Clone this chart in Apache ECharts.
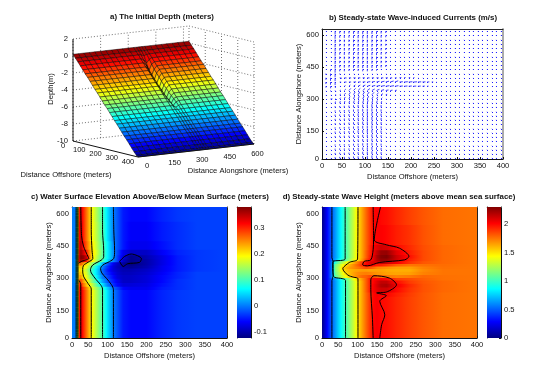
<!DOCTYPE html>
<html>
<head>
<meta charset="utf-8">
<script src="https://cdn.jsdelivr.net/npm/echarts@6/dist/echarts.min.js"></script>
<style>html,body{margin:0;background:#fff}#main{width:557px;height:381px}</style>
</head>
<body>
<div id="main"></div>
<script>
// ---- a) initial depth
var depthX = [0,15,30,45,60,75,90,105,120,135,150,165,180,195,210,225,240,255,270,285,300,315,330,345,360,375,390,400];
var depthY = [0,30,60,90,120,150,180,210,240,270,300,330,345,360,375,390,420,450,480,510,540,570,600,630];
var depthBase = [0.2,-0.2,-0.55,-0.95,-1.35,-1.75,-2.1,-2.5,-2.9,-3.3,-3.65,-4.05,-4.45,-4.85,-5.2,-5.6,-6,-6.4,-6.75,-7.15,-7.55,-7.95,-8.3,-8.7,-9.1,-9.5,-9.85,-10];
var depthEdge = [0.2,-0.2,-0.6,-1.1,-1.6,-2.1,-2.5,-2.9,-3.3,-3.7,-4,-4.4,-4.7,-5,-5.3,-5.65,-6,-6.4,-6.75,-7.15,-7.55,-7.95,-8.3,-8.7,-9.1,-9.5,-9.85,-10];
var depthChannel = [0.2,-0.2,-0.7,-1.5,-2.3,-2.9,-3.4,-3.8,-4.2,-4.5,-4.8,-5.1,-5.4,-5.6,-5.7,-5.85,-6.05,-6.4,-6.75,-7.15,-7.55,-7.95,-8.3,-8.7,-9.1,-9.5,-9.85,-10];
var depthRowAt = {345: depthEdge, 360: depthChannel, 375: depthEdge};
var zTicks = [2,0,-2,-4,-6,-8,-10];
var offshoreTicks3d = [0,100,200,300,400];
var alongTicks3d = [0,150,300,450,600];

// ---- b) currents, sampled every 10 m offshore and 20 m alongshore
var quiverX = [15,25,35,45,55,65,75,85,95,105,115,125,135,145,155,165,175,185,195,205,215,225,235,245,255,265,275,285,295,305,315,325,335,345,355,365,375,385,395];
var quiverY = [20,40,60,80,100,120,140,160,180,200,220,240,260,280,300,320,340,360,380,400,420,440,460,480,500,520,540,560,580,600,620];
var tailNorth = [-.06,-.06,-.07,-.07,-.07,-.08,-.08,-.08,-.08,-.08,-.09,-.09,-.09,-.09,-.09,-.09,-.09,-.09,-.09,-.09,-.09,-.09,-.09];
var tailSouth = [.06,.06,.07,.07,.07,.08,.08,.08,.08,.08,.09,.09,.09,.09,.09,.09,.09,.09,.09,.09,.09,.09,.09];
var tailMid = [.04,.04,.04,.03,.03,.03,.02,.02,.02,.02,.02,.03,.03,.03,.03,.03,.03,.03,.03,.03,.03,.03,.03];
var tailCalm = [0,0,0,0,0,0,0,0,0,0,0,0,0,0,0,0,0,0,0,0,0,0,0];
var uZero = [0,0,0,0,0,0,0,0,0,0,0,0,0,0,0,0];
var vS1 = [.02,.08,.18,.22,.22,.22,.28,.3,.35,.38,.42,.38,.3,.1,.05,.05];
var vS2 = [.02,.08,.2,.22,.25,.28,.32,.38,.42,.45,.48,.42,.35,.12,.05,.05];
var v280 = [.02,.1,.25,.3,.32,.35,.4,.42,.45,.45,.45,.4,.3,.1,.05,.05];
var u280 = [0,.05,.05,.08,.08,.1,.1,.1,.1,.1,.1,.1,.08,.04,0,0];
var v300 = [0,.02,-.1,.2,.3,.38,.42,.42,.42,.42,.38,.32,.18,.06,.02,.02];
var u300 = [0,.25,.25,.12,.12,.15,.15,.15,.18,.18,.18,.18,.15,.1,.04,.02];
var v320 = [-.1,-.05,-.05,.1,.25,.35,.4,.42,.42,.4,.35,.28,.15,.08,.05,.03];
var u320 = [0,.1,.15,.15,.18,.2,.22,.22,.25,.25,.28,.28,.25,.2,.12,.08];
var v340 = [-.1,-.15,-.15,.05,.2,.3,.32,.32,.3,.28,.22,.18,.12,.08,.05,.04];
var u340 = [0,.05,.1,.15,.2,.25,.28,.3,.32,.35,.38,.4,.4,.38,.3,.25];
var v360 = [-.2,-.3,-.25,.02,.1,.18,.2,.18,.18,.15,.12,.12,.1,.08,.08,.08];
var u360 = [0,.02,.05,.1,.15,.2,.25,.3,.35,.4,.45,.5,.5,.5,.5,.48];
var u360Tail = [.45,.45,.42,.4,.38,.3,.2,.1,.05,.03,.02,0,0,0,0,0,0,0,0,0,0,0,0];
var v380 = [-.3,-.4,-.45,-.02,0,0,.02,.02,.03,.05,.08,.1,.12,.12,.15,.18];
var u380 = [0,0,0,.2,.3,.3,.35,.35,.35,.4,.4,.4,.45,.45,.45,.45];
var u380Tail = [.45,.5,.5,.5,.45,.4,.3,.2,.1,.05,.02,0,0,0,0,0,0,0,0,0,0,0,0];
var v400 = [-.3,-.45,-.5,-.08,-.03,-.03,-.02,-.02,-.02,-.02,-.02,-.02,-.02,-.02,-.02,-.02];
var u400 = [0,0,0,.3,.3,.3,.3,.3,.3,.3,.3,.3,.3,.3,.25,.25];
var u400Tail = [.25,.2,.2,.15,.1,.05,.02,0,0,0,0,0,0,0,0,0,0,0,0,0,0,0,0];
var v420 = [-.2,-.4,-.5,-.2,-.08,-.05,-.05,-.05,-.05,-.05,-.05,-.05,-.05,-.05,-.05,-.05];
var u420 = [0,0,0,.08,.1,.1,.1,.1,.1,.1,.1,.1,.1,.1,.08,.08];
var vN0 = [-.1,-.3,-.5,-.3,-.3,-.25,-.25,-.25,-.3,-.3,-.25,-.2,-.1,-.05,-.05,-.05];
var vN1 = [-.05,-.1,-.5,-.35,-.38,-.35,-.4,-.42,-.45,-.45,-.42,-.42,-.35,-.28,-.06,-.06];
// one entry per quiverY row: [v head, v tail, u head, u tail]
var quiverRows = [
  [vS1,tailSouth,uZero,tailCalm],[vS1,tailSouth,uZero,tailCalm],[vS1,tailSouth,uZero,tailCalm],[vS1,tailSouth,uZero,tailCalm],
  [vS1,tailSouth,uZero,tailCalm],[vS1,tailSouth,uZero,tailCalm],[vS2,tailSouth,uZero,tailCalm],[vS2,tailSouth,uZero,tailCalm],
  [vS2,tailSouth,uZero,tailCalm],[vS2,tailSouth,uZero,tailCalm],[vS2,tailSouth,uZero,tailCalm],[vS2,tailSouth,uZero,tailCalm],
  [vS2,tailSouth,uZero,tailCalm],[v280,tailSouth,u280,tailCalm],[v300,tailMid,u300,tailCalm],[v320,tailMid,u320,tailCalm],
  [v340,tailMid,u340,tailCalm],[v360,tailMid,u360,u360Tail],[v380,tailMid,u380,u380Tail],[v400,tailMid,u400,u400Tail],
  [v420,tailNorth,u420,tailCalm],[vN0,tailNorth,uZero,tailCalm],[vN1,tailNorth,uZero,tailCalm],[vN1,tailNorth,uZero,tailCalm],
  [vN1,tailNorth,uZero,tailCalm],[vN1,tailNorth,uZero,tailCalm],[vN1,tailNorth,uZero,tailCalm],[vN1,tailNorth,uZero,tailCalm],
  [vN1,tailNorth,uZero,tailCalm],[vN1,tailNorth,uZero,tailCalm],[vN1,tailNorth,uZero,tailCalm]
];

// ---- c) water surface elevation, one profile per alongshore row
var elevX = [8,14,18,21,24,27,31,38,46,58,72,87,100,115,125,140,160,200,240,280,330,407];
var elevBase = [0,0,0,.1,.2,.3,.34,.3,.26,.2,.15,.1,.05,0,-.02,-.05,-.06,-.06,-.045,-.035,-.03,-.03];
var elev255 = [0,0,0,.1,.2,.3,.33,.29,.25,.19,.14,.09,.04,-.01,-.03,-.06,-.07,-.07,-.05,-.04,-.03,-.03];
var elev270 = [0,0,0,.1,.2,.29,.31,.26,.22,.17,.11,.05,0,-.04,-.06,-.08,-.08,-.075,-.055,-.04,-.03,-.03];
var elev290 = [0,0,.02,.1,.19,.26,.28,.24,.2,.14,.08,.02,-.02,-.05,-.07,-.09,-.09,-.08,-.06,-.04,-.03,-.03];
var elev310 = [0,0,.02,.1,.18,.23,.24,.2,.18,.12,.06,0,-.03,-.06,-.08,-.09,-.09,-.08,-.06,-.045,-.03,-.03];
var elev325 = [0,0,.02,.1,.18,.22,.22,.19,.17,.1,.05,-.01,-.04,-.07,-.085,-.095,-.095,-.085,-.065,-.045,-.03,-.03];
var elev340 = [0,0,.02,.1,.18,.2,.21,.18,.16,.1,.05,-.01,-.05,-.08,-.09,-.1,-.1,-.09,-.07,-.05,-.035,-.03];
var elev355 = [0,0,.02,.1,.18,.22,.22,.2,.18,.12,.06,0,-.04,-.08,-.095,-.105,-.115,-.1,-.07,-.05,-.035,-.03];
var elev370 = [0,0,.02,.1,.2,.25,.27,.24,.2,.15,.1,.03,-.02,-.07,-.09,-.11,-.125,-.105,-.075,-.05,-.035,-.03];
var elev385 = [0,0,.02,.12,.24,.33,.37,.35,.3,.21,.15,.1,.05,0,-.03,-.09,-.12,-.105,-.075,-.05,-.035,-.03];
var elev400 = [0,0,0,.1,.22,.34,.38,.37,.34,.22,.16,.11,.06,.01,-.03,-.08,-.12,-.1,-.075,-.05,-.035,-.03];
var elev420 = [0,0,0,.1,.2,.33,.37,.34,.3,.22,.17,.115,.06,.01,-.025,-.07,-.09,-.09,-.065,-.045,-.035,-.03];
var elev450 = [0,0,0,.1,.2,.32,.36,.31,.27,.21,.16,.11,.06,.005,-.02,-.05,-.07,-.07,-.055,-.04,-.03,-.03];
var elev500 = [0,0,0,.1,.2,.31,.35,.3,.26,.2,.155,.105,.05,0,-.02,-.05,-.065,-.065,-.05,-.04,-.03,-.03];
var elevY = [22,240,255,270,290,310,325,340,355,370,385,400,420,450,500,632];
var elevRows = [elevBase,elevBase,elev255,elev270,elev290,elev310,elev325,elev340,elev355,elev370,elev385,elev400,elev420,elev450,elev500,elevBase];
var elevContours = [
  [[19,22],[19,632]],
  [[21.5,22],[21.5,632]],
  [[24,22],[24,632]],
  [[31,22],[31,270],[27,290]],
  [[31,632],[33,500],[38,450],[50,400],[52,393],[35,380],[25,370]],
  [[58,22],[58,250],[50,275],[38,310],[36,340],[38,360],[50,375],[62,392],[60,430],[58,520],[58,632]],
  [[87,22],[87,250],[82,270],[70,295],[58,325],[56,340],[62,362],[84,385],[90,400],[90,430],[87,520],[87,632]],
  [[115,22],[115,247],[110,270],[97,300],[85,325],[82,345],[88,362],[105,378],[116,393],[118,430],[116,520],[115,632]],
  [[131,379],[144,402],[161,413],[187,391],[182,374],[152,368],[140,355],[131,379]]
];
var elevRange = [-0.125,0.38];
var elevTicks = [-0.1,0,0.1,0.2,0.3];

// ---- d) wave height, one profile per alongshore row
var waveX = [8,15,25,34,42,52,60,68,78,90,101,112,122,132,140,150,160,175,200,234,269,320,407];
var waveBase = [0,.15,.35,.5,.62,.78,.9,1,1.15,1.32,1.5,1.65,1.78,1.9,2,2.03,2,1.98,1.93,1.87,1.82,1.77,1.75];
var wave222 = [0,.15,.35,.5,.62,.78,.9,1,1.15,1.32,1.5,1.65,1.78,1.9,2,2.03,2.02,2.01,1.95,1.88,1.82,1.77,1.75];
var wave250 = [0,.15,.35,.5,.62,.78,.9,1,1.15,1.32,1.5,1.65,1.8,1.95,2.02,2.08,2.12,2.12,2,1.9,1.83,1.78,1.75];
var wave270 = [0,.15,.35,.5,.62,.78,.9,1,1.15,1.32,1.5,1.65,1.8,1.95,2.02,2.1,2.18,2.2,2.04,1.92,1.83,1.78,1.75];
var wave285 = [0,.15,.35,.5,.62,.78,.9,1,1.15,1.32,1.5,1.65,1.8,1.95,2,2.08,2.15,2.15,1.99,1.88,1.82,1.78,1.75];
var wave298 = [0,.15,.35,.5,.64,.8,.92,1.05,1.2,1.4,1.55,1.68,1.8,1.95,2,2.02,2.03,2,1.88,1.84,1.8,1.76,1.75];
var wave310 = [0,.15,.35,.6,1.05,1.2,1.32,1.42,1.52,1.65,1.72,1.78,1.8,1.85,1.85,1.8,1.78,1.75,1.72,1.74,1.78,1.76,1.75];
var wave325 = [0,.15,.35,.6,1.1,1.25,1.38,1.5,1.58,1.65,1.7,1.72,1.73,1.72,1.7,1.68,1.67,1.65,1.64,1.65,1.72,1.75,1.75];
var wave340 = [0,.15,.35,.6,1.12,1.3,1.48,1.55,1.6,1.63,1.65,1.66,1.66,1.65,1.65,1.65,1.65,1.63,1.62,1.62,1.7,1.75,1.75];
var wave352 = [0,.15,.35,.6,1.12,1.3,1.5,1.58,1.65,1.7,1.75,1.8,1.85,1.82,1.78,1.72,1.7,1.68,1.65,1.65,1.72,1.76,1.75];
var wave362 = [0,.15,.35,.6,1.1,1.25,1.4,1.5,1.6,1.7,1.8,1.92,2.02,2.05,2,1.95,1.95,1.9,1.8,1.75,1.76,1.77,1.75];
var wave375 = [0,.15,.35,.58,.95,1.12,1.25,1.35,1.48,1.62,1.75,1.9,2,2.08,2.1,2.12,2.15,2.12,2.03,1.9,1.82,1.78,1.75];
var wave388 = [0,.15,.35,.5,.65,.85,.95,1.05,1.2,1.38,1.52,1.68,1.85,1.98,2.05,2.18,2.25,2.25,2.12,1.95,1.85,1.78,1.75];
var wave402 = [0,.15,.35,.5,.62,.78,.9,1,1.15,1.32,1.5,1.65,1.8,1.95,2.05,2.2,2.28,2.3,2.13,1.98,1.85,1.78,1.75];
var wave420 = [0,.15,.35,.5,.62,.78,.9,1,1.15,1.32,1.5,1.65,1.8,1.93,2.03,2.15,2.24,2.25,2.08,1.95,1.85,1.78,1.75];
var wave445 = [0,.15,.35,.5,.62,.78,.9,1,1.15,1.32,1.5,1.65,1.78,1.92,2.02,2.08,2.12,2.1,2,1.92,1.84,1.78,1.75];
var wave470 = [0,.15,.35,.5,.62,.78,.9,1,1.15,1.32,1.5,1.65,1.78,1.9,2,2.02,2.02,2,1.95,1.9,1.83,1.77,1.75];
var waveY = [22,210,222,250,270,285,298,310,325,340,352,362,375,388,402,420,445,470,632];
var waveRows = [waveBase,waveBase,wave222,wave250,wave270,wave285,wave298,wave310,wave325,wave340,wave352,wave362,wave375,wave388,wave402,wave420,wave445,wave470,waveBase];
var waveContours = [
  [[34,22],[34,290],[37,310],[37,380],[34,395],[34,632]],
  [[69,22],[69,290],[62,298],[40,305],[37,320],[36,345],[36,370],[38,380],[62,384],[68,390],[68,632]],
  [[101,22],[101,298],[90,305],[75,315],[62,345],[70,362],[80,375],[100,390],[101,632]],
  [[140,22],[138,120],[134,247],[134,293],[142,312],[182,301],[200,270],[174,236],[149,232],[174,219],[157,193],[170,130],[162,85],[157,22]],
  [[140,632],[141,479],[140,433],[134,386],[117,379],[113,363],[125,358],[157,374],[221,386],[232,402],[208,440],[174,456],[143,479],[159,632]]
];
var waveRange = [0,2.3];
var waveTicks = [0,0.5,1,1.5,2];

// tick positions and the text MATLAB printed there (first/last sit on the axis ends)
var offshoreTicks = [8.5,50,100,150,200,250,300,350,407];
var offshoreLabels = ['0','50','100','150','200','250','300','350','400'];
var alongTicks = [22,150,300,450,600];
var alongLabels = ['0','150','300','450','600'];
var quiverOffTicks = [6.5,50,100,150,200,250,300,350,400];
var quiverAlongTicks = [17,150,300,450,600];

var FONT = '"Liberation Sans", Arial, sans-serif';
var FS = 7.6;

function jet(t) {
  function c(v) { return Math.round(255 * Math.max(0, Math.min(1, v))); }
  return 'rgb(' + c(1.5 - Math.abs(4 * t - 3)) + ',' + c(1.5 - Math.abs(4 * t - 2)) + ',' + c(1.5 - Math.abs(4 * t - 1)) + ')';
}

function rowGradient(xs, vals, range) {
  var stops = [], span = xs[xs.length - 1] - xs[0];
  for (var i = 0; i < xs.length - 1; i++) {
    for (var k = 0; k < 4; k++) {
      var f = k / 4;
      var v = vals[i] + (vals[i + 1] - vals[i]) * f;
      stops.push({offset: (xs[i] + (xs[i + 1] - xs[i]) * f - xs[0]) / span, color: jet((v - range[0]) / (range[1] - range[0]))});
    }
  }
  stops.push({offset: 1, color: jet((vals[vals.length - 1] - range[0]) / (range[1] - range[0]))});
  return new echarts.graphic.LinearGradient(0, 0, 1, 0, stops);
}

// filled field: each row is a rect shaded along x with its own profile
function fieldSeries(xs, ys, rows, range, axisIdx) {
  var data = ys.map(function (y, j) {
    var lo = j === 0 ? y : (ys[j - 1] + y) / 2;
    var hi = j === ys.length - 1 ? y : (ys[j + 1] + y) / 2;
    return [lo, hi, j];
  });
  var fills = rows.map(function (r) { return rowGradient(xs, r, range); });
  return {
    type: 'custom', xAxisIndex: axisIdx, yAxisIndex: axisIdx, clip: true, silent: true, z: 1,
    data: data,
    renderItem: function (params, api) {
      var a = api.coord([xs[0], api.value(1)]);
      var b = api.coord([xs[xs.length - 1], api.value(0)]);
      return {type: 'rect', shape: {x: a[0], y: a[1] - 0.5, width: b[0] - a[0], height: b[1] - a[1] + 1}, style: {fill: fills[api.value(2)]}};
    }
  };
}

function contourSeries(lines, axisIdx) {
  return lines.map(function (pts) {
    return {
      type: 'line', xAxisIndex: axisIdx, yAxisIndex: axisIdx, data: pts, showSymbol: false, silent: true, smooth: 0.3,
      lineStyle: {color: '#000', width: 1}, clip: true, z: 2, animation: false
    };
  });
}

function colorbarSeries(range, axisIdx) {
  var stops = [0, .125, .375, .625, .875, 1].map(function (t) { return {offset: 1 - t, color: jet(t)}; }).reverse();
  return {
    type: 'custom', xAxisIndex: axisIdx, yAxisIndex: axisIdx, silent: true, z: 1, clip: true,
    data: [[0, range[0], 1, range[1]]],
    renderItem: function (params, api) {
      var a = api.coord([0, api.value(3)]), b = api.coord([1, api.value(1)]);
      return {type: 'rect', shape: {x: a[0], y: a[1], width: b[0] - a[0], height: b[1] - a[1]},
        style: {fill: new echarts.graphic.LinearGradient(0, 0, 0, 1, stops)}};
    }
  };
}

function labelFrom(ticks, labels) {
  return function (v) { var i = ticks.indexOf(v); return i < 0 ? '' : labels[i]; };
}

var grids = [], xAxes = [], yAxes = [];
// adds a grid with its visible axes plus mirrored ones that close the box
function addPanel(rect, x, y) {
  var g = grids.length;
  grids.push({left: rect[0], top: rect[1], width: rect[2], height: rect[3]});
  function axis(cfg, labelled) {
    var show = cfg.show !== false;
    return {
      type: 'value', gridIndex: g, min: cfg.min, max: cfg.max, position: cfg.position, show: show, scale: true,
      name: labelled ? cfg.name : '', nameLocation: 'middle', nameGap: cfg.nameGap,
      nameTextStyle: {fontFamily: FONT, fontSize: FS, color: '#111'},
      axisLine: {show: true, onZero: false, lineStyle: {color: labelled ? '#111' : '#999', width: 1}},
      axisTick: {show: true, inside: true, length: 2, customValues: cfg.ticks, lineStyle: {color: '#111'}},
      axisLabel: {show: labelled, customValues: cfg.ticks, margin: 3, fontFamily: FONT, fontSize: FS, color: '#111',
        formatter: labelFrom(cfg.ticks, cfg.labels)},
      splitLine: {show: false}
    };
  }
  xAxes.push(axis(x, true));
  yAxes.push(axis(y, true));
  return g;
}

var offAxis = function (name) { return {min: 8.5, max: 407, ticks: offshoreTicks, labels: offshoreLabels, position: 'bottom', name: name, nameGap: 14}; };
var alongAxis = function (name) { return {min: 22, max: 632, ticks: alongTicks, labels: alongLabels, position: 'left', name: name, nameGap: 13}; };
var hidden = {min: 0, max: 1, ticks: [], labels: [], position: 'bottom', show: false};

// ---- panel a draws on a plain pixel-sized cartesian, the depth values go through this projection
grids.push({left: 0, top: 0, width: 557, height: 190});
xAxes.push({type: 'value', gridIndex: 0, min: 0, max: 557, show: false});
yAxes.push({type: 'value', gridIndex: 0, min: 0, max: 190, inverse: true, show: false});
function project(x, y, z) {
  return [73 + 65 * x / 400 + 116 * y / 630, 141 + 16 * x / 400 - 13 * y / 630 - 8.5 * (z + 10)];
}
function depthAt(i, j) { return (depthRowAt[depthY[j]] || depthBase)[i]; }

var surfaceData = [];
depthX.slice(0, -1).forEach(function (x, i) {
  depthY.slice(0, -1).forEach(function (y, j) { surfaceData.push([i, j]); });
});
var surfaceSeries = {
  type: 'custom', xAxisIndex: 0, yAxisIndex: 0, silent: true, z: 2, data: surfaceData,
  renderItem: function (params, api) {
    var i = api.value(0), j = api.value(1);
    var corners = [[i, j], [i + 1, j], [i + 1, j + 1], [i, j + 1]];
    var mean = 0;
    var pts = corners.map(function (c) {
      var z = depthAt(c[0], c[1]);
      mean += z / 4;
      return api.coord(project(depthX[c[0]], depthY[c[1]], z));
    });
    return {type: 'polygon', shape: {points: pts}, style: {fill: jet((mean + 10.2) / 10.5), stroke: 'rgba(0,0,0,0.85)', lineWidth: 0.55}};
  }
};

// dotted box walls and solid axes of panel a
var wallLines = [];
zTicks.forEach(function (z) {
  wallLines.push([[0, 0, z], [0, 630, z]]);
  wallLines.push([[0, 630, z], [400, 630, z]]);
});
alongTicks3d.forEach(function (y) { wallLines.push([[0, y, -10], [0, y, 2]]); });
offshoreTicks3d.forEach(function (x) { wallLines.push([[x, 630, -10], [x, 630, 2]]); });
var axisLines3d = [
  [[0, 0, -10], [0, 0, 2]],
  [[0, 0, -10], [400, 0, -10]],
  [[400, 0, -10], [400, 630, -10]]
];
function lines3dSeries(lines, style, z) {
  return {
    type: 'custom', xAxisIndex: 0, yAxisIndex: 0, silent: true, z: z, data: lines.map(function (l, i) { return [i]; }),
    renderItem: function (params, api) {
      var l = lines[api.value(0)];
      var a = api.coord(project(l[0][0], l[0][1], l[0][2])), b = api.coord(project(l[1][0], l[1][1], l[1][2]));
      return {type: 'line', shape: {x1: a[0], y1: a[1], x2: b[0], y2: b[1]}, style: style};
    }
  };
}
function labels3dSeries(items, align) {
  return {
    type: 'custom', xAxisIndex: 0, yAxisIndex: 0, silent: true, z: 5, data: items.map(function (t, i) { return [i]; }),
    renderItem: function (params, api) {
      var t = items[api.value(0)], p = api.coord(project(t.at[0], t.at[1], t.at[2]));
      return {type: 'text', style: {x: p[0] + t.dx, y: p[1] + t.dy, text: String(t.text), fill: '#111',
        font: FS + 'px ' + FONT, align: align, verticalAlign: 'middle'}};
    }
  };
}
var zLabelItems = zTicks.map(function (z) { return {at: [0, 0, z], dx: -5, dy: 0, text: z}; });
var offLabelItems = offshoreTicks3d.map(function (x) { return {at: [x, 0, -10], dx: -10, dy: 5, text: x}; });
var alongLabelItems = alongTicks3d.map(function (y) { return {at: [400, y, -10], dx: 9, dy: 9, text: y}; });

// ---- other panels
var quiverGrid = addPanel([322, 29, 181, 130],
  {min: 6.5, max: 400, ticks: quiverOffTicks, labels: offshoreLabels, position: 'bottom', name: 'Distance Offshore (meters)', nameGap: 14},
  {min: 17, max: 630, ticks: quiverAlongTicks, labels: alongLabels, position: 'left', name: 'Distance Alongshore (meters)', nameGap: 13});
var elevGrid = addPanel([72, 207, 155, 131], offAxis('Distance Offshore (meters)'), alongAxis('Distance Alongshore (meters)'));
var elevBar = addPanel([237, 207, 14, 131], hidden,
  {min: elevRange[0], max: elevRange[1], ticks: elevTicks, labels: ['-0.1', '0', '0.1', '0.2', '0.3'], position: 'right'});
var waveGrid = addPanel([322, 207, 155, 131], offAxis('Distance Offshore (meters)'), alongAxis('Distance Alongshore (meters)'));
var waveBar = addPanel([487, 207, 14, 131], hidden,
  {min: waveRange[0], max: waveRange[1], ticks: waveTicks, labels: ['0', '0.5', '1', '1.5', '2'], position: 'right'});

// closing edges of the boxes, drawn by the same axes components
[quiverGrid, elevGrid, elevBar, waveGrid, waveBar].forEach(function (g) {
  xAxes.push({type: 'value', gridIndex: g, position: 'top', min: 0, max: 1, axisLine: {show: true, onZero: false, lineStyle: {color: g === quiverGrid ? '#222' : '#999'}},
    axisTick: {show: false}, axisLabel: {show: false}, splitLine: {show: false}});
  yAxes.push({type: 'value', gridIndex: g, position: g === elevBar || g === waveBar ? 'left' : 'right', min: 0, max: 1,
    axisLine: {show: true, onZero: false, lineStyle: {color: g === quiverGrid ? '#aaa' : '#222', width: g === quiverGrid ? 2 : 1}},
    axisTick: {show: false}, axisLabel: {show: false}, splitLine: {show: false}});
});

var quiverData = [];
quiverY.forEach(function (y, j) {
  var r = quiverRows[j], vs = r[0].concat(r[1]), us = r[2].concat(r[3]);
  quiverX.forEach(function (x, i) { quiverData.push([x, y, us[i], vs[i]]); });
});
var ARROW_U = 16, ARROW_V = 32; // meters drawn per m/s, axes have different scales
var quiverSeries = {
  type: 'custom', xAxisIndex: quiverGrid, yAxisIndex: quiverGrid, silent: true, clip: true, z: 2, data: quiverData,
  renderItem: function (params, api) {
    var x = api.value(0), y = api.value(1), u = api.value(2), v = api.value(3);
    var a = api.coord([x, y]), b = api.coord([x + u * ARROW_U, y + v * ARROW_V]);
    var strong = Math.sqrt(u * u + v * v) > 0.15;
    return {type: 'group', children: [
      {type: 'line', shape: {x1: a[0], y1: a[1], x2: b[0], y2: b[1]}, style: {stroke: '#0000ff', lineWidth: strong ? 1 : 1.2, opacity: strong ? 0.75 : 0.2}},
      {type: 'rect', shape: {x: Math.round(a[0]), y: Math.round(a[1]), width: 1, height: 1}, style: {fill: '#2020ff'}}
    ]};
  }
};

function titleAt(text, cx, cy) {
  return {text: text, left: cx, top: cy - 5, textAlign: 'center', padding: 0,
    textStyle: {fontFamily: FONT, fontSize: 7.9, fontWeight: 'bold', color: '#111'}};
}

var graphicText = [
  {type: 'text', x: 66, y: 175, style: {text: 'Distance Offshore (meters)', font: FS + 'px ' + FONT, fill: '#111', align: 'center', verticalAlign: 'middle'}},
  {type: 'text', x: 238, y: 171, style: {text: 'Distance Alongshore (meters)', font: FS + 'px ' + FONT, fill: '#111', align: 'center', verticalAlign: 'middle'}},
  {type: 'text', x: 51, y: 89, rotation: Math.PI / 2, style: {text: 'Depth(m)', font: FS + 'px ' + FONT, fill: '#111', align: 'center', verticalAlign: 'middle'}}
];

var option = {
  animation: false,
  backgroundColor: '#fff',
  title: [
    titleAt('a) The Initial Depth (meters)', 162, 18),
    titleAt('b) Steady-state Wave-induced Currents (m/s)', 413, 19),
    titleAt('c) Water Surface Elevation Above/Below Mean Surface (meters)', 150, 198),
    titleAt('d) Steady-state Wave Height (meters above mean sea surface)', 399, 198)
  ],
  grid: grids,
  xAxis: xAxes,
  yAxis: yAxes,
  graphic: graphicText,
  series: [
    lines3dSeries(wallLines, {stroke: '#333', lineWidth: 0.7, lineDash: [1, 2]}, 1),
    surfaceSeries,
    lines3dSeries(axisLines3d, {stroke: '#111', lineWidth: 1}, 3),
    labels3dSeries(zLabelItems, 'right'),
    labels3dSeries(offLabelItems, 'center'),
    labels3dSeries(alongLabelItems, 'center'),
    quiverSeries,
    fieldSeries(elevX, elevY, elevRows, elevRange, elevGrid),
    colorbarSeries(elevRange, elevBar),
    fieldSeries(waveX, waveY, waveRows, waveRange, waveGrid),
    colorbarSeries(waveRange, waveBar)
  ].concat(contourSeries(elevContours, elevGrid), contourSeries(waveContours, waveGrid))
};

var chart = echarts.init(document.getElementById('main'));
chart.setOption(option);
</script>
</body>
</html>
